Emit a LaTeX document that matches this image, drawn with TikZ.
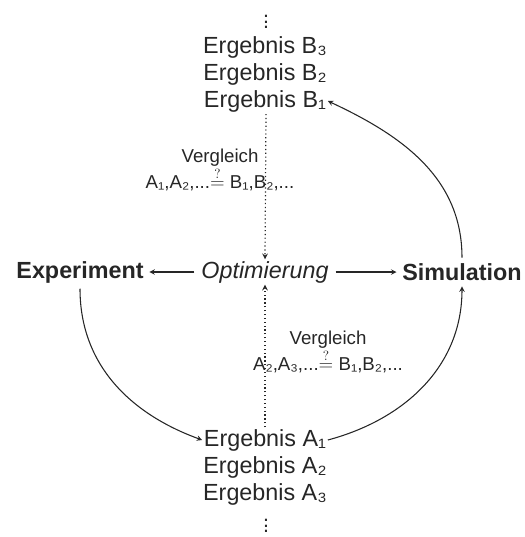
\documentclass[tikz,border=0pt]{standalone}
\usepackage{fontspec}
\setmainfont{Liberation Sans}
\begin{document}
\begin{tikzpicture}[x=0.75pt,y=-0.75pt,>=stealth,line width=0.8pt,color=black!85]
  \tikzstyle{res}=[inner sep=1pt, font=\fontsize{17.5}{20}\selectfont]
  \tikzstyle{dots}=[inner sep=0pt, font=\fontsize{16}{16}\selectfont]
  \tikzstyle{main}=[inner sep=4pt, font=\fontsize{17.5}{20}\selectfont\bfseries]
  \tikzstyle{cmp}=[inner sep=1pt, align=center, font=\fontsize{14}{17}\selectfont]
  \tikzstyle{cmpline}=[->, dotted, line width=0.9pt]
  \useasboundingbox (0,0) rectangle (525,537);

  \node[dots] (bdots) at (266,18) {$\vdots$};
  \node[res] (b3) at (265,47) {Ergebnis B₃};
  \node[res] (b2) at (265,74) {Ergebnis B₂};
  \node[res] (b1) at (265,101) {Ergebnis B₁};

  \node[res, font=\fontsize{17.5}{20}\selectfont\itshape] (opt) at (265,272) {Optimierung};
  \node[main] (exp) at (80,272) {Experiment};
  \node[main] (sim) at (462,272) {Simulation};

  \node[res] (a1) at (265,440) {Ergebnis A₁};
  \node[res] (a2) at (265,467) {Ergebnis A₂};
  \node[res] (a3) at (265,494) {Ergebnis A₃};
  \node[dots] (adots) at (266,522) {$\vdots$};

  \node[cmp] (vup) at (220,170) {Vergleich\\A₁,A₂,...$\stackrel{?}{=}$ B₁,B₂,...};
  \node[cmp] (vlow) at (328,352) {Vergleich\\A₂,A₃,...$\stackrel{?}{=}$ B₁,B₂,...};

  \draw[cmpline] (266,114) -- (opt.north);
  \draw[cmpline] (a1.north -| opt.north) -- (opt.south);
  \draw[->, shorten <=4pt] (opt.west) -- (exp.east);
  \draw[->, shorten <=4pt] (opt.east) -- (sim.west);

  \draw[->] (exp.south) to[out=-90, in=160] (a1.west);
  \draw[->] (a1.east) to[out=15, in=-90] (sim.south);
  \draw[->] (sim.north) to[out=90, in=-25] (b1.east);
\end{tikzpicture}
\end{document}
